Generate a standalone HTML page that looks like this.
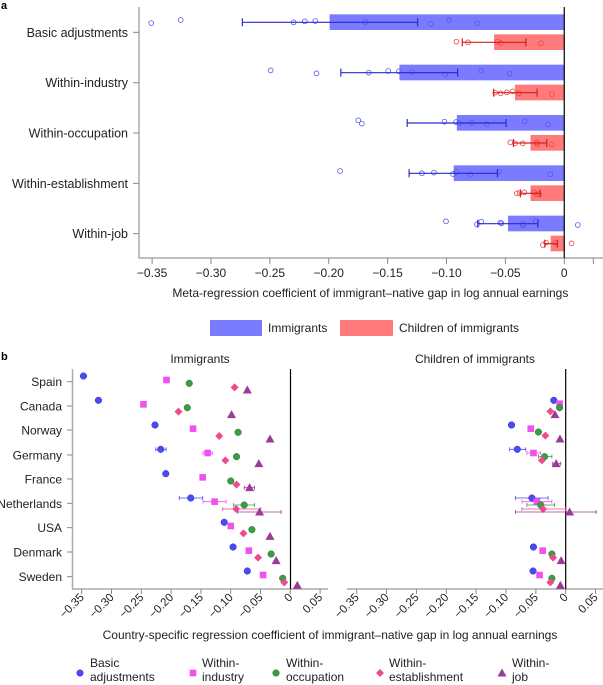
<!DOCTYPE html>
<html><head><meta charset="utf-8"><style>
html,body{margin:0;padding:0;background:#fff;}
svg{display:block;font-family:"Liberation Sans",Arial,sans-serif;}
</style></head><body>
<svg id="s" width="603" height="685" viewBox="0 0 603 685" xmlns="http://www.w3.org/2000/svg">
<text x="1" y="9" font-size="11" font-weight="bold">a</text>
<text x="1" y="360" font-size="11" font-weight="bold">b</text>
<g id="g"></g>
</svg>
<script>
var NS="http://www.w3.org/2000/svg",g=document.getElementById('g');
function el(t,a,txt){var e=document.createElementNS(NS,t);for(var k in a)e.setAttribute(k,a[k]);if(txt!=null)e.textContent=txt;g.appendChild(e);return e;}
function line(x1,y1,x2,y2,c,w){el('line',{x1:x1,y1:y1,x2:x2,y2:y2,stroke:c,'stroke-width':w||1});}
function text(x,y,s,fs,anc,extra){var a={x:x,y:y,'font-size':fs,'text-anchor':anc||'start',fill:'#222'};for(var k in extra)a[k]=extra[k];return el('text',a,s);}
var FX=0.3878;function ax(z){return z*FX;}function ay(z){return z/3;}
var Z0=ax(1455);
line(139,7,139,258.5,'#aaa',1.5);
line(139,258,603,258,'#aaa',1.5);
var cats=['Basic adjustments','Within-industry','Within-occupation','Within-establishment','Within-job'];
for(var i=0;i<5;i++){var cy=ay(97+i*151);line(133,cy,139,cy,'#888',1);text(128,cy+4.5,cats[i],12.5,'end');}
var tl=['\u22120.35','\u22120.30','\u22120.25','\u22120.20','\u22120.15','\u22120.10','\u22120.05','0'];
for(var i=0;i<8;i++){var x=Z0-(7-i)*0.05*1177.5;line(x,258,x,264,'#888',1);text(x,277,tl[i],12,'middle');}
line(ax(1530),258,ax(1530),264,'#888',1);
text(ax(955),297,'Meta-regression coefficient of immigrant\u2013native gap in log annual earnings',12,'middle');
var bb=[850,1030,1178,1170,1310],rb=[1274,1328,1368,1368,1420];
var be=[[625,1077],[879,1180],[1050,1305],[1055,1283],[1232,1387]],re=[[1192,1356],[1273,1385],[1324,1410],[1342,1393],[1405,1437]];
for(var i=0;i<5;i++){var o=i*151;
el('rect',{x:ax(bb[i]),y:ay(43+o),width:Z0-ax(bb[i]),height:ay(47),fill:'#7b7bff'});
el('rect',{x:ax(rb[i]),y:ay(103+o),width:Z0-ax(rb[i]),height:ay(47),fill:'#ff7b7b'});}
var dots={b:[[390,69],[466,60],[757,67],[786,64],[813,63],[942,66],[1111,72],[1158,61],[1231,70],[698,211],[816,220],[951,218],[1001,213],[1029,214],[1063,216],[1148,223],[1241,212],[1314,221],[924,361],[933,371],[1146,365],[1176,366],[1184,369],[1216,368],[1255,373],[1353,364],[1413,373],[877,513],[1088,520],[1119,518],[1168,522],[1176,516],[1213,524],[1287,515],[1419,523],[1150,664],[1230,673],[1241,665],[1290,668],[1293,670],[1348,672],[1349,677],[1382,664],[1490,675]],
r:[[1177,125],[1207,127],[1283,125],[1291,129],[1395,130],[1277,278],[1291,280],[1307,277],[1322,274],[1338,280],[1423,282],[1316,427],[1328,430],[1348,430],[1384,427],[1385,432],[1423,433],[1333,580],[1340,579],[1352,577],[1377,577],[1383,583],[1390,582],[1400,735],[1408,728],[1432,728],[1474,730]]};
dots.b.forEach(function(p){el('circle',{cx:ax(p[0]),cy:ay(p[1]),r:2.4,fill:'none',stroke:'#5555ee','stroke-width':0.8});});
dots.r.forEach(function(p){el('circle',{cx:ax(p[0]),cy:ay(p[1]),r:2.4,fill:'none',stroke:'#ee4444','stroke-width':0.8});});
for(var i=0;i<5;i++){var o=i*151;
var y=ay(67+o);line(ax(be[i][0]),y,ax(be[i][1]),y,'#2a2ad0',1.2);line(ax(be[i][0]),y-4,ax(be[i][0]),y+4,'#2a2ad0',1.2);line(ax(be[i][1]),y-4,ax(be[i][1]),y+4,'#2a2ad0',1.2);
y=ay(127+o);line(ax(re[i][0]),y,ax(re[i][1]),y,'#d02020',1.2);line(ax(re[i][0]),y-4,ax(re[i][0]),y+4,'#d02020',1.2);line(ax(re[i][1]),y-4,ax(re[i][1]),y+4,'#d02020',1.2);}
line(Z0,7,Z0,258,'#000',1.2);
el('rect',{x:210,y:320,width:52,height:16,fill:'#7b7bff'});text(268,332,'Immigrants',12);
el('rect',{x:340,y:320,width:53,height:16,fill:'#ff7b7b'});text(399,332,'Children of immigrants',12);
var BX=0.3846;function bx(z){return z*BX;}function by(z){return 340+z/3;}
text(200,363,'Immigrants',12,'middle');text(475,363,'Children of immigrants',12,'middle');
line(72.5,369,72.5,589.5,'#aaa',1.5);line(72,589,328,589,'#aaa',1.5);line(347,589,603,589,'#aaa',1.5);
var countries=['Spain','Canada','Norway','Germany','France','Netherlands','USA','Denmark','Sweden'];
var rys=[125,198,270,345,417,490,563,636,710];
for(var i=0;i<9;i++){var y=by(rys[i]);line(67,y,72.5,y,'#888',1);text(62,y+4.5,countries[i],12,'end');}
var tl2=['\u22120.35','\u22120.30','\u22120.25','\u22120.20','\u22120.15','\u22120.10','\u22120.05','0','0.05'];
function ticks(x0,x1){for(var i=0;i<9;i++){var x=x0+(x1-x0)*i/7;line(x,589,x,594,'#888',1);
text(x+3,598,tl2[i],11.5,'end',{transform:'rotate(-45 '+(x+3)+' 598)'});}}
ticks(81.7,290.3);ticks(356.7,565.7);
line(290.5,369,290.5,589,'#000',1.2);line(565.7,369,565.7,589,'#000',1.2);
text(330,639,'Country-specific regression coefficient of immigrant\u2013native gap in log annual earnings',12,'middle');
var C=['#4a4af0','#f050f0','#3d9a45','#ee4a90','#9a3a9a'];
function marker(t,x,y){
 if(t==0)el('circle',{cx:x,cy:y,r:3.3,fill:C[0],stroke:'#3030c0','stroke-width':0.5});
 else if(t==1)el('rect',{x:x-3.3,y:y-3.3,width:6.6,height:6.6,fill:C[1]});
 else if(t==2)el('circle',{cx:x,cy:y,r:3.3,fill:C[2],stroke:'#2a7a30','stroke-width':0.5});
 else if(t==3)el('polygon',{points:(x)+','+(y-4)+' '+(x+4)+','+y+' '+x+','+(y+4)+' '+(x-4)+','+y,fill:C[3]});
 else el('polygon',{points:(x)+','+(y-4.5)+' '+(x+4.5)+','+(y+3.5)+' '+(x-4.5)+','+(y+3.5),fill:C[4]});}
var P=[
[[217,108],[433,120],[492,130],[610,142],[643,150]],
[[256,181],[373,193],[487,203],[464,215],[602,224]],
[[403,255],[502,266],[619,277],[570,288],[702,297]],
[[418,328,405,432],[540,339,528,552],[615,350],[586,361],[673,371]],
[[431,401],[527,412],[600,423],[615,434],[649,443,635,662]],
[[496,474,466,527],[558,485,528,588],[635,495,607,662],[614,507,579,678],[675,516,618,731]],
[[583,547],[600,558],[655,569],[633,580],[702,589]],
[[606,621],[647,632],[705,642],[671,653],[718,662]],
[[643,693],[684,705],[735,715],[739,727],[773,736]],
[[1440,181],[1455,191],[1455,203],[1431,214],[1443,224]],
[[1330,255],[1380,266],[1400,276],[1418,287],[1456,297]],
[[1345,328,1325,1367],[1387,339,1370,1405],[1416,350,1400,1435],[1409,361],[1446,371,1437,1458]],
[[1383,474,1340,1425],[1396,485,1357,1435],[1406,495,1370,1442],[1412,507,1357,1470],[1481,516,1340,1550]],
[[1387,621],[1411,632],[1435,642],[1438,653],[1459,662]],
[[1386,693],[1403,705],[1435,715],[1431,727],[1457,736]]];
P.forEach(function(row){row.forEach(function(p,t){var y=by(p[1]);
 if(p.length>2){line(bx(p[2]),y,bx(p[3]),y,C[t],0.8);line(bx(p[2]),y-2,bx(p[2]),y+2,C[t],0.8);line(bx(p[3]),y-2,bx(p[3]),y+2,C[t],0.8);}
 marker(t,bx(p[0]),y);});});
var L=[[80,90,'Basic','adjustments'],[193,202,'Within-','industry'],[276,286,'Within-','occupation'],[380,389,'Within-','establishment'],[502,512,'Within-','job']];
L.forEach(function(l,t){marker(t,l[0],673);text(l[1],667,l[2],12);text(l[1],681,l[3],12);});
</script>
</body></html>
